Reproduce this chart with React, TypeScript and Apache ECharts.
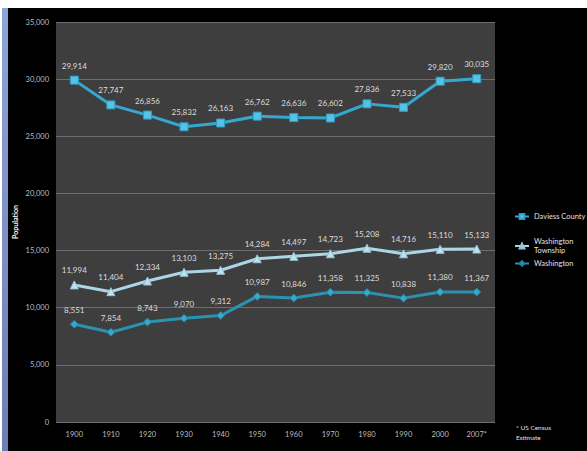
import React, { useEffect, useRef } from "react";
import * as echarts from "echarts";

const years = ["1900", "1910", "1920", "1930", "1940", "1950", "1960", "1970", "1980", "1990", "2000", "2007*"];
const daviessCounty = [29914, 27747, 26856, 25832, 26163, 26762, 26636, 26602, 27836, 27533, 29820, 30035];
const washingtonTownship = [11994, 11404, 12334, 13103, 13275, 14284, 14497, 14723, 15208, 14716, 15110, 15133];
const washington = [8551, 7854, 8743, 9070, 9312, 10987, 10846, 11358, 11325, 10838, 11380, 11367];

const FONT = "Lato, 'Open Sans', sans-serif";
const fmt = (v: number) => v.toLocaleString("en-US");

export default function App() {
  const ref = useRef<HTMLDivElement>(null);
  useEffect(() => {
    if (!ref.current) return;
    const chart = echarts.init(ref.current, undefined, { renderer: "svg" });
    const labelCfg = {
      show: true,
      position: "top" as const,
      distance: 6,
      color: "#dcdcdc",
      fontSize: 8,
      fontFamily: FONT,
      formatter: (p: any) => fmt(p.value),
    };
    const legendText = { color: "#e0e0e0", fontSize: 7.5, fontFamily: FONT, lineHeight: 9 };
    const legendBase = {
      left: 514,
      padding: 0,
      itemWidth: 14,
      itemHeight: 6,
      itemGap: 2,
      textStyle: legendText,
    };
    chart.setOption({
      animation: false,
      backgroundColor: "#000000",
      textStyle: { fontFamily: FONT },
      grid: {
        left: 56,
        right: 92,
        top: 22,
        bottom: 29,
        show: true,
        backgroundColor: "#3e3e3e",
        borderWidth: 0,
      },
      legend: [
        { ...legendBase, data: ["Daviess County"], top: 212 },
        { ...legendBase, data: ["Washington Township"], top: 237, formatter: () => "Washington\nTownship" },
        { ...legendBase, data: ["Washington"], top: 259 },
      ],
      xAxis: {
        type: "category",
        data: years,
        boundaryGap: true,
        axisLine: { show: false },
        axisTick: { show: false },
        axisLabel: { color: "#bdbdbd", fontSize: 7.5, fontFamily: FONT, margin: 8 },
      },
      yAxis: {
        type: "value",
        min: 0,
        max: 35000,
        interval: 5000,
        name: "Population",
        nameLocation: "middle",
        nameGap: 38,
        nameMoveOverlap: false,
        nameRotate: 90,
        nameTextStyle: { color: "#ffffff", fontSize: 7, fontWeight: "bold", fontFamily: FONT },
        axisLine: { show: false },
        axisTick: { show: false },
        axisLabel: { color: "#bdbdbd", fontSize: 7.5, fontFamily: FONT, margin: 7, formatter: (v: number) => fmt(v) },
        splitLine: { lineStyle: { color: "#6e6e6e", width: 1 } },
      },
      series: [
        {
          name: "Daviess County",
          type: "line",
          data: daviessCounty,
          symbol: "rect",
          symbolSize: 8,
          lineStyle: { color: "#35a8cf", width: 3 },
          itemStyle: { color: "#56c3e4", borderColor: "#2f9cc4", borderWidth: 1 },
          label: labelCfg,
        },
        {
          name: "Washington Township",
          type: "line",
          data: washingtonTownship,
          symbol: "triangle",
          symbolSize: 8,
          lineStyle: { color: "#acd6e6", width: 3 },
          itemStyle: { color: "#c0e2ee", borderColor: "#93c4d6", borderWidth: 1 },
          label: labelCfg,
        },
        {
          name: "Washington",
          type: "line",
          data: washington,
          symbol: "diamond",
          symbolSize: 8,
          lineStyle: { color: "#2b93b2", width: 3 },
          itemStyle: { color: "#3aa8c8", borderColor: "#237f9c", borderWidth: 1 },
          label: labelCfg,
        },
      ],
      graphic: [
        { type: "rect", left: 0, top: 0, shape: { width: 587, height: 8 }, style: { fill: "#ffffff" }, z: 100 },
        { type: "rect", left: 0, top: 0, shape: { width: 2, height: 451 }, style: { fill: "#ffffff" }, z: 100 },
        {
          type: "rect",
          left: 2,
          top: 8,
          shape: { width: 6, height: 443 },
          style: {
            fill: new echarts.graphic.LinearGradient(0, 0, 0, 1, [
              { offset: 0, color: "#8ea5d9" },
              { offset: 1, color: "#6b7eb6" },
            ]),
          },
          z: 100,
        },
        {
          type: "text",
          left: 516,
          top: 424,
          style: { text: "* US Census", fill: "#e0e0e0", fontSize: 6.5, fontFamily: FONT },
        },
        {
          type: "text",
          left: 516,
          top: 434,
          style: { text: "Estimate", fill: "#e0e0e0", fontSize: 6.5, fontFamily: FONT },
        },
      ],
    });
    return () => chart.dispose();
  }, []);
  return (
    <div
      ref={ref}
      style={{ position: "fixed", left: 0, top: 0, width: 587, height: 451 }}
    />
  );
}
